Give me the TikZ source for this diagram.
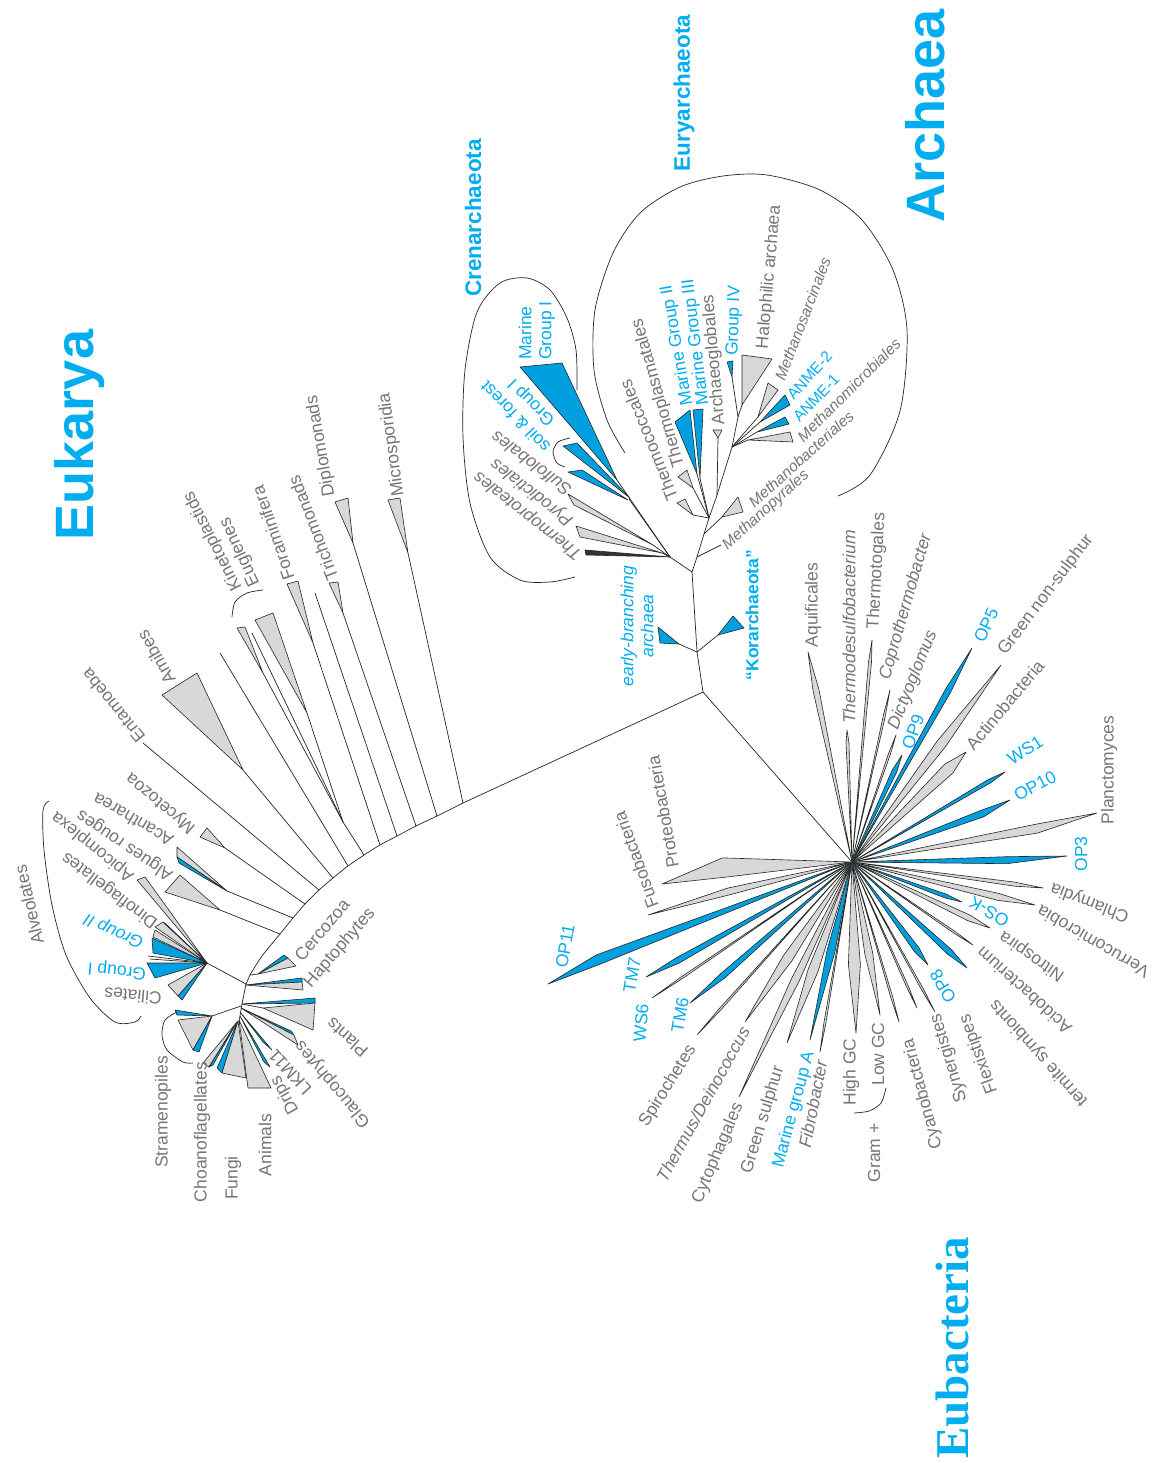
\documentclass[tikz,border=0pt]{standalone}
\usepackage{fontspec}
\setmainfont{Liberation Sans}
\newfontfamily\ebfont{Liberation Serif}
\usetikzlibrary{calc}
\definecolor{tblue}{RGB}{0,174,239}
\definecolor{fblue}{RGB}{0,160,224}
\definecolor{fgray}{RGB}{216,216,216}
\definecolor{tgray}{RGB}{118,118,118}
\newcommand{\Clade}[4]{\filldraw[clade,fill=#1] (#2) -- (#3) -- (#4) -- cycle;}
\newcommand{\Bray}[5]{\filldraw[clade,fill=#1] (B0) -- ($(B0)!#3!(#2)!#4pt!90:(#2)$) -- (#2) -- ($(B0)!#3!(#2)!#5pt!-90:(#2)$) -- cycle;}
\newcommand{\Lab}[5][]{\node[lab,rotate=#4,#1] (#2) at (#3) {#5};}
\begin{document}
\begin{tikzpicture}[x=1pt,y=-1pt,
  clade/.style={draw=black!85,line width=0.6pt,line join=round},
  br/.style={draw=black!85,line width=0.7pt},
  bkt/.style={draw=black!85,line width=0.7pt},
  lab/.style={text=tgray,font=\fontsize{17.5}{20}\selectfont,inner sep=1pt},
  sm/.style={font=\fontsize{15.5}{18}\selectfont},
  blab/.style={text=tblue},
  big/.style={text=tblue,font=\fontsize{54}{60}\selectfont\bfseries,inner sep=0pt},
  mid/.style={text=tblue,font=\fontsize{22.5}{26}\selectfont\bfseries,inner sep=0pt}]
\fill[white] (0,0) rectangle (1157,1463);
\useasboundingbox (0,0) rectangle (1157,1463);
% ---------- main coordinates
\coordinate (J0) at (703,692);
\coordinate (B0) at (852,862);
\coordinate (E0) at (463,803);
\coordinate (AR1) at (697,652);
\coordinate (AR2) at (692,572);
\coordinate (CR0) at (670,557);
\coordinate (K0) at (343,822);
\coordinate (A0) at (207,963);
\coordinate (S0) at (212,1016);
\coordinate (L0) at (709,518);
\coordinate (EE) at (732,447);
\coordinate (EF) at (738,417);
\draw[br] (E0) -- (J0) -- (AR1) -- (AR2);
\draw[br] (J0) -- (B0);
% ================= EUKARYA =================
\draw[br] plot[smooth] coordinates {(463,803) (437,816) (416,826) (397,836) (380,845) (364,855) (348,866) (333,878) (319,890) (305,904) (293,918) (280,934) (262,956) (250,975)};
\draw[br] (250,975) -- (246,984) -- (242,1004) -- (239,1022);
\draw[br] (408,553) -- (463,803);
\Clade{fgray}{408,553}{388,500}{400,498}
\draw[br] (353,543) -- (437,816);
\Clade{fgray}{353,543}{335,502}{348,498}
\draw[br] (343,613) -- (416,826);
\Clade{fgray}{343,613}{329,583}{338,582}
\draw[br] (315,593) -- (397,836);
\draw[br] (313,643) -- (380,845);
\Clade{fgray}{313,643}{287,584}{298,581}
\draw[br] (K0) -- (364,855);
\draw[br] (263,673) -- (K0);
\draw[br] (252,633) -- (K0);
\draw[br] (307,713) -- (K0);
\Clade{fgray}{263,673}{237,628}{245,627}
\Clade{fgray}{307,713}{255,620}{273,613}
\draw[br] (220,653) -- (348,866);
\draw[br] (243,770) -- (333,878);
\Clade{fgray}{243,770}{162,695}{197,673}
\draw[br] (143,743) -- (319,890);
\draw[br] (225,848) -- (305,904);
\Clade{fgray}{225,848}{200,837}{207,828}
\draw[br] (227,891) -- (293,918);
\Clade{fgray}{227,891}{177,847}{177,857}
\Clade{fblue}{227,891}{177,857}{179,863}
\draw[br] (220,910) -- (280,934);
\Clade{fgray}{220,910}{165,892}{180,875}
% Alveolates
\draw[br] (A0) -- (246,984);
\Clade{fgray}{A0}{137,880}{145,877}
\Clade{fgray}{A0}{155,927}{163,922}
\Clade{fblue}{A0}{163,922}{166,924}
\Clade{fgray}{A0}{155,930}{153,937}
\Clade{fblue}{A0}{152,938}{153,953}
\draw[br] (A0) -- (148,956);
\draw[br] (A0) -- (150,959);
\Clade{fblue}{A0}{147,963}{155,978}
\Clade{fgray}{A0}{168,985}{178,996}
\Clade{fblue}{A0}{178,996}{182,1000}
% crown
\draw[br] (250,975) -- (258,974);
\Clade{fblue}{258,974}{284,955}{288,958}
\Clade{fgray}{258,974}{288,958}{296,966}
\Clade{fblue}{246,985}{302,978}{302,982}
\Clade{fgray}{246,985}{302,982}{303,990}
\Clade{fblue}{242,1004}{315,998}{315,1003}
\draw[br] (242,1004) -- (263,1008);
\Clade{fgray}{263,1008}{315,1003}{313,1030}
\Clade{fblue}{241,1008}{291,1031}{294,1035}
\Clade{fgray}{241,1008}{294,1035}{298,1045}
\Clade{fblue}{240,1012}{263,1042}{272,1050}
\Clade{fblue}{240,1016}{264,1062}{270,1067}
\Clade{fgray}{239,1020}{248,1088}{271,1088}
\Clade{fblue}{238,1021}{217,1068}{222,1073}
\Clade{fgray}{238,1021}{222,1073}{246,1078}
\Clade{fgray}{237,1022}{203,1063}{209,1067}
\Clade{fblue}{237,1022}{209,1067}{213,1065}
\draw[br] (S0) -- (241,1006);
\Clade{fblue}{S0}{175,1010}{177,1015}
\Clade{fgray}{S0}{178,1020}{193,1050}
\Clade{fblue}{S0}{193,1050}{199,1052}
% brackets
\draw[bkt] plot[smooth] coordinates {(49,801) (43,810) (44,850) (52,905) (66,955) (90,998) (115,1022) (135,1022) (141,1016)};
\draw[bkt] plot[smooth] coordinates {(177,1012) (165,1020) (162,1035) (167,1050) (183,1062) (193,1063)};
\draw[bkt] plot[smooth] coordinates {(232,617) (235,602) (247,593) (263,590)};
% Eukarya labels
\node[big,rotate=90] (euk) at (80,435) {Eukarya};
\Lab{lmic}{392,445}{98}{Microsporidia}
\Lab{ldip}{321,446}{100}{Diplomonads}
\Lab{ltri}{313,528}{111}{Trichomonads}
\Lab{lfor}{273,533}{109}{Foraminifera}
\Lab{lkin}{213,541}{117}{Kinetoplastids}
\Lab{leug}{240,552}{115}{Euglenes}
\Lab{lami}{156,657}{120}{Amibes}
\Lab{lent}{113,706}{129}{Entamoeba}
\Lab{lmyc}{161,803}{140}{Mycetozoa}
\Lab{laca}{133,820}{150}{Acantharea}
\Lab{lalg}{125,845}{146}{Algues rouges}
\Lab{lapi}{93,846}{141}{Apicomplexa}
\Lab{ldin}{110,890}{143}{Dinoflagellates}
\Lab[blab]{lg2}{114,930}{156}{\itshape Group II}
\Lab[blab]{lg1}{117,970}{175}{Group I}
\Lab{lcil}{133,996}{175}{Ciliates}
\Lab{lalv}{29,905}{103}{Alveolates}
\Lab{lcer}{322,930}{50}{Cercozoa}
\Lab{lhap}{340,948}{49}{Haptophytes}
\Lab{lpla}{347,1038}{138}{Plants}
\Lab{lgla}{333,1084}{130}{Glaucophytes}
\Lab{llkm}{290,1072}{132}{LKM11}
\Lab{ldri}{285,1095}{119}{Drips}
\Lab{lani}{265,1145}{90}{Animals}
\Lab{lfun}{233,1178}{90}{Fungi}
\Lab{lcho}{202,1132}{90}{Choanoflagellates}
\Lab{lstr}{163,1112}{90}{Stramenopiles}
% ================= ARCHAEA =================
\draw[br] (AR1) -- (679,644);
\Clade{fblue}{679,644}{658,627}{660,643}
\draw[br] (AR1) -- (718,635);
\Clade{fblue}{718,635}{733,616}{744,628}
\draw[br] (AR2) -- (CR0);
\draw[br] (AR2) -- (697,557) -- (704,534) -- (L0) -- (717,495) -- (EE) -- (EF);
\draw[br] (697,557) -- (721,545);
\draw[br] (704,534) -- (722,517);
\Clade{fgray}{722,517}{738,497}{743,512}
\draw[br] (L0) -- (693,515);
\draw[br] (L0) -- (693,488);
\draw[br] (L0) -- (697,474);
\draw[br] (L0) -- (700,478);
\Clade{fgray}{693,515}{677,503}{685,499}
\Clade{fgray}{693,488}{678,477}{687,470}
\Clade{fblue}{697,474}{675,422}{690,410}
\Clade{fblue}{700,478}{693,410}{703,409}
\draw[br] (717,495) -- (718,438);
\Clade{fgray}{718,438}{713,430}{722,430}
\draw[br] (EE) -- (758,417);
\draw[br] (EE) -- (760,422);
\draw[br] (EE) -- (757,432);
\draw[br] (EE) -- (748,440);
\Clade{fgray}{758,417}{768,383}{778,390}
\Clade{fblue}{760,422}{785,395}{790,405}
\Clade{fblue}{757,432}{785,417}{789,424}
\Clade{fgray}{748,440}{790,432}{793,442}
\draw[br] (EF) -- (742,405);
\Clade{fgray}{742,405}{742,355}{772,359}
\draw[br] (EF) -- (732,377);
\Clade{fblue}{732,377}{727,362}{733,361}
% Crenarchaeota
\Clade{black!80}{CR0}{585,550}{586,555}
\draw[br] (CR0) -- (662,553);
\Clade{fgray}{662,553}{576,526}{580,537}
\draw[br] (CR0) -- (653,545);
\Clade{fgray}{653,545}{568,494}{574,505}
\draw[br] (CR0) -- (629,499);
\Clade{fblue}{630,498}{563,446}{577,443}
\Clade{fblue}{628,500}{568,472}{582,470}
\draw[br] (CR0) -- (617,480);
\Clade{fblue}{617,480}{520,367}{562,363}
% loops
\draw[bkt] plot[smooth] coordinates {(577,390) (576,350) (567,318) (550,290) (527,278) (500,283) (477,312) (465,370) (463,437) (470,503) (490,557) (520,580) (550,582) (575,577)};
\draw[bkt] plot[smooth] coordinates {(570,438) (558,442) (553,452) (557,463) (565,467)};
\draw[bkt] plot[smooth] coordinates {(625,453) (607,420) (594,370) (595,310) (613,253) (640,213) (680,187) (723,176) (767,175) (820,190) (862,220) (893,270) (907,330) (900,411) (870,475) (838,496)};
% Archaea labels
\node[big,rotate=90] (arc) at (925,116) {Archaea};
\node[mid,rotate=90] (eury) at (684,93) {Euryarchaeota};
\node[mid,rotate=90] (cren) at (473,218) {Crenarchaeota};
\Lab[blab,anchor=west]{lmg1a}{525,361}{90}{Marine}
\Lab[blab,anchor=west]{lmg1b}{547,361}{90}{Group I}
\Lab[blab]{lsf1}{532,402}{135}{Group I}
\Lab[blab]{lsf2}{515,417}{134}{soil \& forest}
\Lab{lsul}{531,464}{143}{\itshape Sulfolobales}
\Lab{lpyr}{532,492}{142}{\itshape Pyrodictiales}
\Lab{lthp}{528,515}{142}{\itshape Thermoproteales}
\Lab[anchor=west]{ltcc}{673,501}{112}{Thermococcales}
\Lab[anchor=west]{ltpl}{680,468}{106}{Thermoplasmatales}
\Lab[blab,anchor=west]{lmg2}{688,406}{100}{Marine Group II}
\Lab[blab,anchor=west]{lmg3}{704,406}{97}{Marine Group III}
\Lab[anchor=west]{larg}{720,426}{95}{Archaeoglobales}
\Lab[blab,anchor=west]{lg4}{733,357}{88}{Group IV}
\Lab[anchor=west]{lhal}{763,350}{85}{Halophilic archaea}
\Lab[sm,anchor=west]{lmsa}{779,381}{69}{\itshape Methanosarcinales}
\Lab[sm,blab,anchor=west]{lan2}{789,398}{48}{ANME-2}
\Lab[sm,blab,anchor=west]{lan1}{795,420}{46}{ANME-1}
\Lab[sm,anchor=west]{lmmi}{799,440}{45}{\itshape Methanomicrobiales}
\Lab[sm,anchor=west]{lmba}{750,505}{42}{\itshape Methanobacteriales}
\Lab[sm,anchor=west]{lmpy}{724,548}{42}{\itshape Methanopyrales}
\node[lab,blab,rotate=90,align=center,font=\fontsize{17.5}{20}\selectfont\itshape] (learly) at (637,626) {early-branching\\archaea};
\node[lab,blab,rotate=90,font=\fontsize{17.5}{20}\selectfont\bfseries] (lkor) at (752,615) {“Korarchaeota”};
% ================= BACTERIA =================
\Bray{fgray}{808,652}{0.82}{3}{3}
\Bray{fgray}{847,730}{0.9}{1.5}{1.5}
\Bray{fgray}{872,640}{0.9}{1.5}{1.5}
\Bray{fgray}{890,690}{0.85}{1}{1}
\Bray{fgray}{896,735}{0.85}{1}{1}
\Bray{fblue}{902,755}{0.85}{2.5}{2.5}
\Bray{fblue}{972,648}{0.8}{3}{3}
\Bray{fgray}{1001,665}{0.6}{5}{5}
\Bray{fgray}{966,752}{0.85}{6}{6}
\Bray{fblue}{1005,772}{0.9}{2}{2}
\Bray{fblue}{1010,800}{0.82}{1}{6}
\Bray{fgray}{1097,813}{0.75}{1}{8}
\Bray{fblue}{1067,856}{0.72}{1}{6}
\Bray{fgray}{1043,888}{0.85}{2}{2}
\Bray{fgray}{1035,905}{0.8}{3}{4}
\Bray{fblue}{962,902}{0.85}{2}{2}
\Bray{fgray}{990,928}{0.85}{3}{3}
\Bray{fgray}{973,945}{0.85}{1}{1}
\Bray{fblue}{967,968}{0.85}{3}{3}
\Bray{fblue}{928,965}{0.85}{3}{3}
\Bray{fgray}{935,1012}{0.85}{1}{1}
\Bray{fgray}{917,1008}{0.85}{1}{1}
\Bray{fgray}{899,1022}{0.85}{1}{1}
\Bray{fgray}{880,1015}{0.6}{4}{4}
\Bray{fgray}{856,1033}{0.6}{6}{6}
\Bray{fgray}{820,1052}{0.85}{1}{1}
\Bray{fblue}{810,1040}{0.5}{4}{4}
\Bray{fgray}{787,1043}{0.6}{5}{5}
\Bray{fgray}{739,1097}{0.5}{4}{4}
\Bray{fgray}{745,1022}{0.6}{5}{5}
\Bray{fgray}{697,1035}{0.85}{1}{1}
\Bray{fblue}{690,1003}{0.8}{4}{2}
\Bray{fgray}{652,998}{0.85}{1}{1}
\Bray{fblue}{646,977}{0.85}{4}{2}
\Bray{fblue}{548,984}{0.83}{1}{9}
\Bray{fgray}{648,915}{0.6}{1}{6}
\Bray{fgray}{662,884}{0.67}{0.5}{19}
\draw[bkt] plot[smooth] coordinates {(886,1088) (881,1103) (869,1111) (854,1113)};
% Bacteria labels
\Lab{laqu}{813,605}{90}{Aquificales}
\Lab{ltds}{849,627}{90}{\itshape Thermodesulfobacterium}
\Lab{ltto}{877,571}{87}{Thermotogales}
\Lab{lcop}{906,607}{74}{\itshape Coprothermobacter}
\Lab{ldic}{913,680}{68}{\itshape Dictyoglomus}
\Lab[blab]{lop9}{913,732}{70}{OP9}
\Lab[blab]{lop5}{986,625}{65}{OP5}
\Lab{lgns}{1046,595}{53}{Green non-sulphur}
\Lab{lact}{1005,705}{50}{Actinobacteria}
\Lab[blab]{lws1}{1025,750}{32}{WS1}
\Lab[blab]{lop10}{1035,786}{28}{OP10}
\Lab{lpln}{1109,770}{90}{Planctomyces}
\Lab[blab]{lop3}{1081,854}{90}{OP3}
\Lab{lchl}{1090,902}{159}{Chlamydia}
\Lab{lver}{1093,942}{150}{Verrucomicrobia}
\Lab[blab]{losk}{989,912}{150}{OS-K}
\Lab{lnit}{1032,956}{145}{Nitrospira}
\Lab{laci}{1024,991}{138}{Acidobacterium}
\Lab{lter}{1039,1053}{132}{termite symbionts}
\Lab[blab]{lop8}{943,986}{120}{OP8}
\Lab{lfle}{979,1054}{110}{Flexistipes}
\Lab{lsyn}{949,1058}{107}{Synergistes}
\Lab{lcya}{923,1094}{105}{Cyanobacteria}
\Lab{llgc}{878,1054}{90}{Low GC}
\Lab{lhgc}{851,1072}{90}{High GC}
\Lab{lgrp}{874,1153}{90}{Gram +}
\Lab{lfib}{813,1104}{79}{\itshape Fibrobacter}
\Lab[blab]{lmga}{794,1110}{75}{Marine group A}
\Lab{lgsu}{763,1120}{73}{Green sulphur}
\Lab{lcyt}{718,1153}{67}{Cytophagales}
\Lab{lthd}{703,1104}{61}{\itshape Thermus/Deinococcus}
\Lab{lspi}{668,1086}{58}{Spirochetes}
\Lab[blab]{ltm6}{680,1015}{80}{TM6}
\Lab[blab]{lws6}{641,1023}{85}{WS6}
\Lab[blab]{ltm7}{632,975}{80}{TM7}
\Lab[blab]{lop11}{565,946}{80}{OP11}
\Lab{lfus}{636,860}{110}{Fusobacteria}
\Lab{lpro}{663,812}{100}{Proteobacteria}
\node[text=tblue,font=\ebfont\bfseries\fontsize{47}{52}\selectfont,rotate=90,inner sep=0pt] (eub) at (952,1348) {Eubacteria};
\end{tikzpicture}
\end{document}
